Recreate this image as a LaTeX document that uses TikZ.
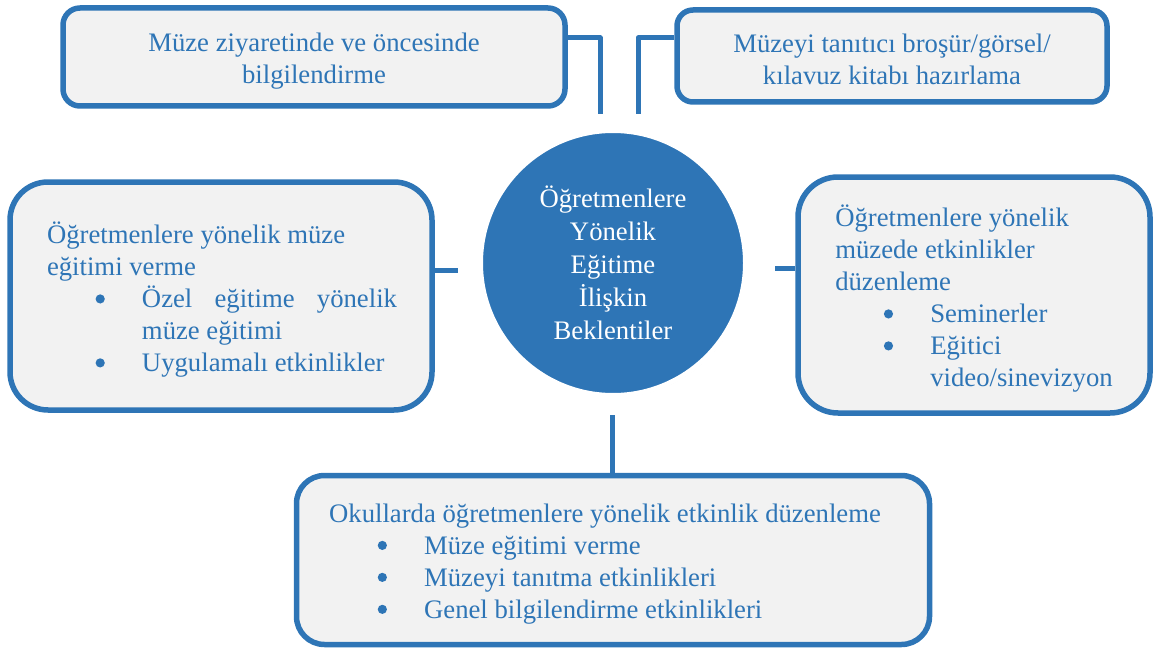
\documentclass[tikz,border=0pt]{standalone}
\usepackage{fontspec}
\setmainfont{Liberation Serif}
\usetikzlibrary{shadows}
\definecolor{kmavi}{HTML}{2E75B6}
\definecolor{kgri}{HTML}{F2F2F2}
\newdimen\pxu \pxu=0.02cm
\newcommand\madde{\hspace*{48.6\pxu}\raisebox{4.4\pxu}{\tikz\fill (0,0) circle (4.6\pxu);}\hspace*{37.2\pxu}}
\newcommand\girinti{\hspace*{95\pxu}}

\begin{document}
\begin{tikzpicture}[x=0.02cm,y=-0.02cm,line join=round,
  kutu/.style={draw=kmavi,fill=kgri,line width=5.5\pxu,
    drop shadow={opacity=0.25,shadow xshift=0.7pt,shadow yshift=-0.9pt}},
  metin/.style={text=kmavi,font=\fontsize{15.2}{18.2}\selectfont,inner sep=0pt},
  merkez/.style={circle,fill=kmavi,draw=white,line width=5\pxu,minimum size=265\pxu,
    text=white,align=center,font=\fontsize{15.2}{18.8}\selectfont,
    drop shadow={opacity=0.3,shadow xshift=0.6pt,shadow yshift=-0.9pt}},
  bag/.style={draw=kmavi,line width=5\pxu}]
  \useasboundingbox (0,0) rectangle (1153,652);
  % orta daire
  \node[merkez] (hub) at (613,263) {Öğretmenlere\\Yönelik\\Eğitime\\İlişkin\\Beklentiler};
  % kutular
  \node[kutu,rounded corners=17\pxu,minimum width=502\pxu,minimum height=98\pxu] (ustsol) at (314,57) {};
  \node[kutu,rounded corners=16\pxu,minimum width=430\pxu,minimum height=92\pxu] (ustsag) at (892,56) {};
  \node[kutu,rounded corners=38\pxu,minimum width=422\pxu,minimum height=228\pxu] (sol) at (221,296) {};
  \node[kutu,rounded corners=40\pxu,minimum width=352\pxu,minimum height=236\pxu] (sag) at (974,295) {};
  \node[kutu,rounded corners=28\pxu,minimum width=633\pxu,minimum height=169\pxu] (alt) at (613,560) {};
  % kutu metinleri
  \node[metin,align=center] (ustsolm) at ([yshift=-4\pxu]ustsol.center)
    {Müze ziyaretinde ve öncesinde\\bilgilendirme};
  \node[metin,align=center] (ustsagm) at ([yshift=-3\pxu]ustsag.center)
    {Müzeyi tanıtıcı broşür/görsel/\\kılavuz kitabı hazırlama};
  \node[metin,align=left] (solm) at ([xshift=1\pxu,yshift=-4\pxu]sol.center)
    {Öğretmenlere yönelik müze\\eğitimi verme\\
      \madde\makebox[255\pxu][s]{Özel eğitime yönelik}\\
      \girinti müze eğitimi\\
      \madde Uygulamalı etkinlikler};
  \node[metin,align=left] (sagm) at ([yshift=-4\pxu]sag.center)
    {Öğretmenlere yönelik\\müzede etkinlikler\\düzenleme\\
      \madde Seminerler\\
      \madde Eğitici\\
      \girinti video/sinevizyon};
  \node[metin,align=left] (altm) at ([xshift=-8\pxu,yshift=-4\pxu]alt.center)
    {Okullarda öğretmenlere yönelik etkinlik düzenleme\\
      \madde Müze eğitimi verme\\
      \madde Müzeyi tanıtma etkinlikleri\\
      \madde Genel bilgilendirme etkinlikleri};
  % baglantilar
  \coordinate (k1) at (600,38);
  \coordinate (u1) at (600,114);
  \coordinate (k2) at (638,38);
  \coordinate (u2) at (638,114);
  \coordinate (u3) at (458,270);
  \coordinate (u4) at (775,268);
  \coordinate (u5) at (612,415);
  \draw[bag] (k1 -| ustsol.east) -- (k1) -- (u1);
  \draw[bag] (k2 -| ustsag.west) -- (k2) -- (u2);
  \draw[bag] (u3 -| sol.east) -- (u3);
  \draw[bag] (u4 -| sag.west) -- (u4);
  \draw[bag] (u5) -- (u5 |- alt.north);
\end{tikzpicture}
\end{document}
